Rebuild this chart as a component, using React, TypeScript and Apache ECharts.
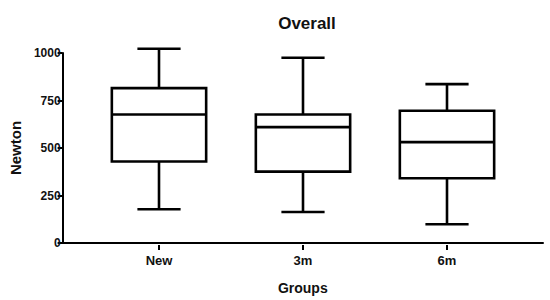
import React, { useEffect, useRef } from "react";
import * as echarts from "echarts";

const categories = ["New", "3m", "6m"];
const whiskerLow = [186, 172, 108];
const q1 = [435, 382, 348];
const median = [680, 614, 536];
const q3 = [817, 680, 699];
const whiskerHigh = [1022, 975, 838];
const yTicks = [0, 250, 500, 750, 1000];

const FONT = "'Liberation Sans', Arial, sans-serif";

export default function App() {
  const ref = useRef<HTMLDivElement>(null);
  useEffect(() => {
    if (!ref.current) return;
    const chart = echarts.init(ref.current, null, { renderer: "svg" });
    const data = categories.map((c, i) => [i, whiskerLow[i], q1[i], median[i], q3[i], whiskerHigh[i]]);
    const top = 53;
    const bottom = 55;
    chart.setOption({
      animation: false,
      backgroundColor: "#fff",
      title: {
        text: "Overall",
        left: 302,
        textAlign: "center",
        top: 10,
        textStyle: { fontFamily: FONT, fontWeight: "bold", fontSize: 17, color: "#111" },
      },
      grid: [
        { left: 59, right: 7, top, bottom },
        { left: 87, right: 31, top, bottom },
      ],
      xAxis: [
        {
          gridIndex: 0,
          type: "value",
          min: 0,
          max: 1,
          axisLine: { show: true, lineStyle: { color: "#000", width: 2 } },
          axisTick: { show: false },
          axisLabel: { show: false },
          splitLine: { show: false },
          name: "Groups",
          nameLocation: "middle",
          nameGap: 38,
          nameTextStyle: { fontFamily: FONT, fontWeight: "bold", fontSize: 14, color: "#111" },
        },
        {
          gridIndex: 1,
          type: "category",
          data: categories,
          boundaryGap: true,
          axisLine: { show: false },
          axisTick: { show: true, alignWithLabel: true, length: 5, lineStyle: { color: "#000", width: 2 } },
          axisLabel: { fontFamily: FONT, fontWeight: "bold", fontSize: 13, color: "#111", margin: 9 },
          splitLine: { show: false },
        },
      ],
      yAxis: [
        {
          gridIndex: 0,
          type: "value",
          min: yTicks[0],
          max: yTicks[yTicks.length - 1],
          interval: 250,
          axisLine: { show: true, lineStyle: { color: "#000", width: 2 } },
          axisTick: { show: true, length: 5, lineStyle: { color: "#000", width: 2 } },
          axisLabel: {
            fontFamily: FONT,
            fontWeight: "bold",
            fontSize: 12,
            color: "#111",
            margin: 2,
            formatter: (v: number) => String(v),
          },
          splitLine: { show: false },
          name: "Newton",
          nameLocation: "middle",
          nameRotate: 90,
          nameGap: 38,
          nameTextStyle: { fontFamily: FONT, fontWeight: "bold", fontSize: 15, color: "#111" },
        },
        {
          gridIndex: 1,
          type: "value",
          min: yTicks[0],
          max: yTicks[yTicks.length - 1],
          show: false,
        },
      ],
      series: [
        {
          type: "custom",
          xAxisIndex: 1,
          yAxisIndex: 1,
          data,
          encode: { x: 0, y: [1, 2, 3, 4, 5] },
          renderItem: (params: any, api: any) => {
            const idx = api.value(0);
            const band = api.size([1, 0])[0];
            const boxW = band * 0.655;
            const capW = band * 0.3;
            const pLow = api.coord([idx, api.value(1)]);
            const pQ1 = api.coord([idx, api.value(2)]);
            const pMed = api.coord([idx, api.value(3)]);
            const pQ3 = api.coord([idx, api.value(4)]);
            const pHigh = api.coord([idx, api.value(5)]);
            const cx = pMed[0];
            const st = { stroke: "#000", lineWidth: 2.6, fill: null };
            return {
              type: "group",
              children: [
                { type: "line", shape: { x1: cx, y1: pQ3[1], x2: cx, y2: pHigh[1] }, style: st },
                { type: "line", shape: { x1: cx, y1: pQ1[1], x2: cx, y2: pLow[1] }, style: st },
                { type: "line", shape: { x1: cx - capW / 2, y1: pHigh[1], x2: cx + capW / 2, y2: pHigh[1] }, style: st },
                { type: "line", shape: { x1: cx - capW / 2, y1: pLow[1], x2: cx + capW / 2, y2: pLow[1] }, style: st },
                {
                  type: "rect",
                  shape: { x: cx - boxW / 2, y: pQ3[1], width: boxW, height: pQ1[1] - pQ3[1] },
                  style: { stroke: "#000", lineWidth: 2.6, fill: "#fff" },
                },
                { type: "line", shape: { x1: cx - boxW / 2, y1: pMed[1], x2: cx + boxW / 2, y2: pMed[1] }, style: st },
              ],
            };
          },
        },
      ],
    });
    return () => chart.dispose();
  }, []);
  return <div ref={ref} style={{ position: "fixed", left: 0, top: 0, width: 550, height: 300 }} />;
}
